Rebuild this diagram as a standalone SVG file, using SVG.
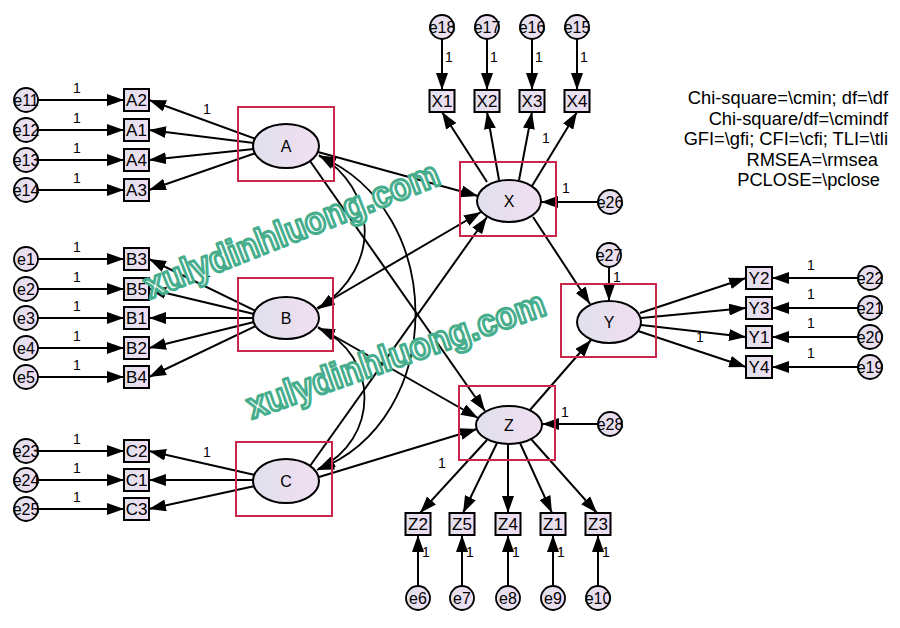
<svg xmlns="http://www.w3.org/2000/svg" width="900" height="628" viewBox="0 0 900 628">
<defs>
<linearGradient id="g" x1="0" y1="0" x2="1" y2="0">
<stop offset="0" stop-color="#e0e0ec"/>
<stop offset="1" stop-color="#f1def2"/>
</linearGradient>
<marker id="ah" markerUnits="userSpaceOnUse" markerWidth="18" markerHeight="12" refX="17" refY="6" orient="auto-start-reverse">
<path d="M0,0 L17,6 L0,12 Z" fill="#000"/>
</marker>
<style>
.ln{stroke:#000;stroke-width:2;fill:none;marker-end:url(#ah)}
.cv{stroke:#000;stroke-width:1.8;fill:none;marker-start:url(#ah);marker-end:url(#ah)}
.lat{fill:url(#g);stroke:#000;stroke-width:2}
.obs{fill:url(#g);stroke:#000;stroke-width:2}
.err{fill:url(#g);stroke:#000;stroke-width:1.8}
.frm{fill:none;stroke:#c8264b;stroke-width:2}
.t{font-family:"Liberation Sans",Arial,sans-serif;fill:#000;text-anchor:middle}
.tl{font-size:16px}
.to{font-size:17px}
.te{font-size:16px}
.one{font-family:"Liberation Sans",Arial,sans-serif;font-size:14px;fill:#000;text-anchor:middle}
.fit{font-family:"Liberation Sans",Arial,sans-serif;font-size:18.3px;fill:#000;text-anchor:end}
.wm{font-family:"Liberation Sans",Arial,sans-serif;font-weight:bold;font-size:37px;fill:#fff;stroke:#46ae8c;stroke-width:3;stroke-linejoin:round}
</style>
</defs>
<rect width="900" height="628" fill="#fff"/>

<g id="connectors">
<line class="ln" x1="38" y1="100" x2="124" y2="100"/>
<line class="ln" x1="38" y1="130" x2="124" y2="130"/>
<line class="ln" x1="38" y1="160" x2="124" y2="160"/>
<line class="ln" x1="38" y1="190" x2="124" y2="190"/>
<line class="ln" x1="38" y1="259" x2="124" y2="259"/>
<line class="ln" x1="38" y1="289" x2="124" y2="289"/>
<line class="ln" x1="38" y1="318" x2="124" y2="318"/>
<line class="ln" x1="38" y1="348" x2="124" y2="348"/>
<line class="ln" x1="38" y1="377" x2="124" y2="377"/>
<line class="ln" x1="38" y1="451" x2="124" y2="451"/>
<line class="ln" x1="38" y1="480" x2="124" y2="480"/>
<line class="ln" x1="38" y1="509" x2="124" y2="509"/>
<line class="ln" x1="256" y1="139" x2="149" y2="100"/>
<line class="ln" x1="254" y1="143" x2="149" y2="130"/>
<line class="ln" x1="254" y1="149" x2="149" y2="160"/>
<line class="ln" x1="256" y1="153" x2="149" y2="190"/>
<line class="ln" x1="256" y1="311" x2="149" y2="259"/>
<line class="ln" x1="254" y1="314" x2="149" y2="289"/>
<line class="ln" x1="253" y1="318" x2="149" y2="318"/>
<line class="ln" x1="254" y1="322" x2="149" y2="348"/>
<line class="ln" x1="256" y1="326" x2="149" y2="377"/>
<line class="ln" x1="255" y1="475" x2="149" y2="451"/>
<line class="ln" x1="253" y1="480" x2="149" y2="480"/>
<line class="ln" x1="255" y1="486" x2="149" y2="509"/>
<line class="ln" x1="442" y1="39" x2="442" y2="90"/>
<line class="ln" x1="487" y1="39" x2="487" y2="90"/>
<line class="ln" x1="532" y1="39" x2="532" y2="90"/>
<line class="ln" x1="577" y1="39" x2="577" y2="90"/>
<line class="ln" x1="487" y1="182" x2="442" y2="112"/>
<line class="ln" x1="499" y1="180" x2="487" y2="112"/>
<line class="ln" x1="519" y1="180" x2="532" y2="112"/>
<line class="ln" x1="532" y1="186" x2="577" y2="112"/>
<line class="ln" x1="598" y1="202" x2="541" y2="202"/>
<line class="ln" x1="609" y1="267" x2="609" y2="301"/>
<line class="ln" x1="640" y1="313" x2="746" y2="278"/>
<line class="ln" x1="641" y1="318" x2="746" y2="308"/>
<line class="ln" x1="641" y1="325" x2="746" y2="337"/>
<line class="ln" x1="638" y1="331" x2="746" y2="367"/>
<line class="ln" x1="858" y1="278" x2="772" y2="278"/>
<line class="ln" x1="858" y1="308" x2="772" y2="308"/>
<line class="ln" x1="858" y1="337" x2="772" y2="337"/>
<line class="ln" x1="858" y1="367" x2="772" y2="367"/>
<line class="ln" x1="598" y1="424" x2="542" y2="424"/>
<line class="ln" x1="487" y1="440" x2="420" y2="513"/>
<line class="ln" x1="497" y1="443" x2="463" y2="513"/>
<line class="ln" x1="508" y1="444" x2="508" y2="513"/>
<line class="ln" x1="520" y1="443" x2="552" y2="513"/>
<line class="ln" x1="531" y1="439" x2="597" y2="513"/>
<line class="ln" x1="418" y1="586" x2="418" y2="535"/>
<line class="ln" x1="462" y1="586" x2="462" y2="535"/>
<line class="ln" x1="508" y1="586" x2="508" y2="535"/>
<line class="ln" x1="553" y1="586" x2="553" y2="535"/>
<line class="ln" x1="598" y1="586" x2="598" y2="535"/>
<line class="ln" x1="318" y1="152" x2="478" y2="196"/>
<line class="ln" x1="310" y1="161" x2="485" y2="411"/>
<line class="ln" x1="317" y1="308" x2="481" y2="212"/>
<line class="ln" x1="318" y1="327" x2="478" y2="418"/>
<line class="ln" x1="310" y1="466" x2="487" y2="217"/>
<line class="ln" x1="319" y1="477" x2="477" y2="429"/>
<line class="ln" x1="533" y1="217" x2="590" y2="304"/>
<line class="ln" x1="530" y1="410" x2="591" y2="340"/>
<path class="cv" d="M319,155 C375,188 385,265 318,309"/>
<path class="cv" d="M319,156 C448,210 448,420 317,470"/>
<path class="cv" d="M318,328 C380,355 380,440 318,469"/>
<g class="one">
<text x="77" y="93">1</text><text x="77" y="123">1</text><text x="77" y="153">1</text><text x="77" y="183">1</text>
<text x="77" y="252">1</text><text x="77" y="282">1</text><text x="77" y="311">1</text><text x="77" y="341">1</text><text x="77" y="370">1</text>
<text x="77" y="444">1</text><text x="77" y="473">1</text><text x="77" y="502">1</text>
<text x="207" y="114">1</text>
<text x="207" y="277">1</text>
<text x="207" y="457">1</text>
<text x="449" y="62">1</text><text x="494" y="62">1</text><text x="539" y="62">1</text><text x="584" y="62">1</text>
<text x="546" y="143">1</text>
<text x="566" y="193">1</text>
<text x="617" y="282">1</text>
<text x="811" y="270">1</text><text x="811" y="299">1</text><text x="811" y="328">1</text><text x="811" y="358">1</text>
<text x="700" y="342">1</text>
<text x="565" y="417">1</text>
<text x="442" y="468">1</text>
<text x="426" y="557">1</text><text x="470" y="557">1</text><text x="516" y="557">1</text><text x="561" y="557">1</text><text x="606" y="557">1</text>
</g>
</g>

<g id="A">
<rect class="frm" x="238" y="107" width="96" height="74"/>
<ellipse class="lat" cx="286" cy="146" rx="33" ry="22"/>
<text class="t tl" x="286" y="152">A</text>
</g>
<g id="B">
<rect class="frm" x="238" y="278" width="95" height="73"/>
<ellipse class="lat" cx="286" cy="318" rx="33" ry="21"/>
<text class="t tl" x="286" y="324">B</text>
</g>
<g id="C">
<rect class="frm" x="236" y="442" width="96" height="74"/>
<ellipse class="lat" cx="286" cy="481" rx="33" ry="22"/>
<text class="t tl" x="286" y="487">C</text>
</g>
<g id="X">
<rect class="frm" x="460" y="162" width="96" height="74"/>
<ellipse class="lat" cx="509" cy="201" rx="32" ry="21"/>
<text class="t tl" x="509" y="207">X</text>
</g>
<g id="Y">
<rect class="frm" x="561" y="284" width="95" height="73"/>
<ellipse class="lat" cx="609" cy="322" rx="32" ry="21"/>
<text class="t tl" x="609" y="328">Y</text>
</g>
<g id="Z">
<rect class="frm" x="459" y="386" width="96" height="74"/>
<ellipse class="lat" cx="509" cy="425" rx="33" ry="19"/>
<text class="t tl" x="509" y="431">Z</text>
</g>

<g id="A2"><rect class="obs" x="124" y="89" width="25" height="22"/><text class="t to" x="136.5" y="106">A2</text></g>
<g id="A1"><rect class="obs" x="124" y="119" width="25" height="22"/><text class="t to" x="136.5" y="136">A1</text></g>
<g id="A4"><rect class="obs" x="124" y="149" width="25" height="22"/><text class="t to" x="136.5" y="166">A4</text></g>
<g id="A3"><rect class="obs" x="124" y="179" width="25" height="22"/><text class="t to" x="136.5" y="196">A3</text></g>
<g id="B3"><rect class="obs" x="124" y="248" width="25" height="22"/><text class="t to" x="136.5" y="265">B3</text></g>
<g id="B5"><rect class="obs" x="124" y="278" width="25" height="22"/><text class="t to" x="136.5" y="295">B5</text></g>
<g id="B1"><rect class="obs" x="124" y="307" width="25" height="22"/><text class="t to" x="136.5" y="324">B1</text></g>
<g id="B2"><rect class="obs" x="124" y="337" width="25" height="22"/><text class="t to" x="136.5" y="354">B2</text></g>
<g id="B4"><rect class="obs" x="124" y="366" width="25" height="22"/><text class="t to" x="136.5" y="383">B4</text></g>
<g id="C2"><rect class="obs" x="124" y="440" width="25" height="22"/><text class="t to" x="136.5" y="457">C2</text></g>
<g id="C1"><rect class="obs" x="124" y="469" width="25" height="22"/><text class="t to" x="136.5" y="486">C1</text></g>
<g id="C3"><rect class="obs" x="124" y="498" width="25" height="22"/><text class="t to" x="136.5" y="515">C3</text></g>
<g id="X1"><rect class="obs" x="429.5" y="90" width="25" height="22"/><text class="t to" x="442" y="107">X1</text></g>
<g id="X2"><rect class="obs" x="474.5" y="90" width="25" height="22"/><text class="t to" x="487" y="107">X2</text></g>
<g id="X3"><rect class="obs" x="519.5" y="90" width="25" height="22"/><text class="t to" x="532" y="107">X3</text></g>
<g id="X4"><rect class="obs" x="564.5" y="90" width="25" height="22"/><text class="t to" x="577" y="107">X4</text></g>
<g id="Y2"><rect class="obs" x="746" y="267" width="26" height="22"/><text class="t to" x="759" y="284">Y2</text></g>
<g id="Y3"><rect class="obs" x="746" y="297" width="26" height="22"/><text class="t to" x="759" y="314">Y3</text></g>
<g id="Y1"><rect class="obs" x="746" y="326" width="26" height="22"/><text class="t to" x="759" y="343">Y1</text></g>
<g id="Y4"><rect class="obs" x="746" y="356" width="26" height="22"/><text class="t to" x="759" y="373">Y4</text></g>
<g id="Z2"><rect class="obs" x="405.5" y="513" width="25" height="22"/><text class="t to" x="418" y="530">Z2</text></g>
<g id="Z5"><rect class="obs" x="449.5" y="513" width="25" height="22"/><text class="t to" x="462" y="530">Z5</text></g>
<g id="Z4"><rect class="obs" x="495.5" y="513" width="25" height="22"/><text class="t to" x="508" y="530">Z4</text></g>
<g id="Z1"><rect class="obs" x="540.5" y="513" width="25" height="22"/><text class="t to" x="553" y="530">Z1</text></g>
<g id="Z3"><rect class="obs" x="585.5" y="513" width="25" height="22"/><text class="t to" x="598" y="530">Z3</text></g>

<g id="e11"><circle class="err" cx="26" cy="100" r="12"/><text class="t te" x="26" y="105.5">e11</text></g>
<g id="e12"><circle class="err" cx="26" cy="130" r="12"/><text class="t te" x="26" y="135.5">e12</text></g>
<g id="e13"><circle class="err" cx="26" cy="160" r="12"/><text class="t te" x="26" y="165.5">e13</text></g>
<g id="e14"><circle class="err" cx="26" cy="190" r="12"/><text class="t te" x="26" y="195.5">e14</text></g>
<g id="e1"><circle class="err" cx="26" cy="259" r="12"/><text class="t te" x="26" y="264.5">e1</text></g>
<g id="e2"><circle class="err" cx="26" cy="289" r="12"/><text class="t te" x="26" y="294.5">e2</text></g>
<g id="e3"><circle class="err" cx="26" cy="318" r="12"/><text class="t te" x="26" y="323.5">e3</text></g>
<g id="e4"><circle class="err" cx="26" cy="348" r="12"/><text class="t te" x="26" y="353.5">e4</text></g>
<g id="e5"><circle class="err" cx="26" cy="377" r="12"/><text class="t te" x="26" y="382.5">e5</text></g>
<g id="e23"><circle class="err" cx="26" cy="451" r="12"/><text class="t te" x="26" y="456.5">e23</text></g>
<g id="e24"><circle class="err" cx="26" cy="480" r="12"/><text class="t te" x="26" y="485.5">e24</text></g>
<g id="e25"><circle class="err" cx="26" cy="509" r="12"/><text class="t te" x="26" y="514.5">e25</text></g>
<g id="e18"><circle class="err" cx="442" cy="27" r="12"/><text class="t te" x="442" y="32.5">e18</text></g>
<g id="e17"><circle class="err" cx="487" cy="27" r="12"/><text class="t te" x="487" y="32.5">e17</text></g>
<g id="e16"><circle class="err" cx="532" cy="27" r="12"/><text class="t te" x="532" y="32.5">e16</text></g>
<g id="e15"><circle class="err" cx="577" cy="27" r="12"/><text class="t te" x="577" y="32.5">e15</text></g>
<g id="e26"><circle class="err" cx="610" cy="202" r="12"/><text class="t te" x="610" y="207.5">e26</text></g>
<g id="e27"><circle class="err" cx="609" cy="255" r="12"/><text class="t te" x="609" y="260.5">e27</text></g>
<g id="e28"><circle class="err" cx="610" cy="424" r="12"/><text class="t te" x="610" y="429.5">e28</text></g>
<g id="e22"><circle class="err" cx="870" cy="278" r="12"/><text class="t te" x="870" y="283.5">e22</text></g>
<g id="e21"><circle class="err" cx="870" cy="308" r="12"/><text class="t te" x="870" y="313.5">e21</text></g>
<g id="e20"><circle class="err" cx="870" cy="337" r="12"/><text class="t te" x="870" y="342.5">e20</text></g>
<g id="e19"><circle class="err" cx="870" cy="367" r="12"/><text class="t te" x="870" y="372.5">e19</text></g>
<g id="e6"><circle class="err" cx="418" cy="598" r="12"/><text class="t te" x="418" y="603.5">e6</text></g>
<g id="e7"><circle class="err" cx="462" cy="598" r="12"/><text class="t te" x="462" y="603.5">e7</text></g>
<g id="e8"><circle class="err" cx="508" cy="598" r="12"/><text class="t te" x="508" y="603.5">e8</text></g>
<g id="e9"><circle class="err" cx="553" cy="598" r="12"/><text class="t te" x="553" y="603.5">e9</text></g>
<g id="e10"><circle class="err" cx="598" cy="598" r="12"/><text class="t te" x="598" y="603.5">e10</text></g>

<g id="fit">
<text class="fit" x="888" y="104">Chi-square=\cmin; df=\df</text>
<text class="fit" x="888" y="124.5">Chi-square/df=\cmindf</text>
<text class="fit" x="888" y="145">GFI=\gfi; CFI=\cfi; TLI=\tli</text>
<text class="fit" x="878" y="165.5">RMSEA=\rmsea</text>
<text class="fit" x="880" y="186">PCLOSE=\pclose</text>
</g>

<g id="watermark">
<text class="wm" transform="translate(150,299) rotate(-21.5)" textLength="314" lengthAdjust="spacingAndGlyphs">xulydinhluong.com</text>
<text class="wm" transform="translate(252,419) rotate(-19.5)" textLength="314" lengthAdjust="spacingAndGlyphs">xulydinhluong.com</text>
</g>
</svg>
